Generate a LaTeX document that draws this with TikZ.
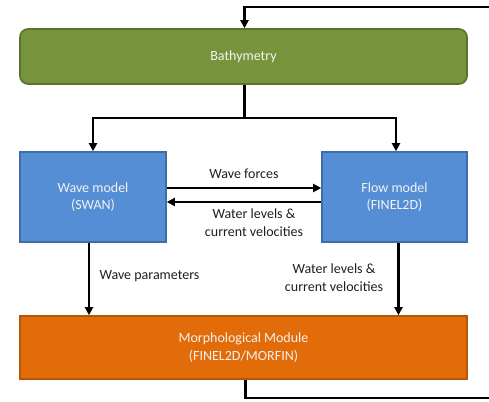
\documentclass[tikz,border=0pt]{standalone}
\usepackage{fontspec}
\setmainfont{Carlito}
\usetikzlibrary{arrows.meta}
\definecolor{bathfill}{HTML}{77933C}
\definecolor{bathline}{HTML}{5A7229}
\definecolor{bluefill}{HTML}{558ED5}
\definecolor{blueline}{HTML}{3E6DAA}
\definecolor{orgfill}{HTML}{E36C0A}
\definecolor{orgline}{HTML}{B5560A}
\definecolor{boxtext}{HTML}{F2F2F2}
\definecolor{labtext}{HTML}{1E1E1E}
\tikzset{
  boxbase/.style={draw, line width=1.6pt, inner sep=0pt, align=center,
    text=boxtext, font=\fontsize{14}{17.5}\selectfont},
  bathbox/.style={boxbase, fill=bathfill, draw=bathline, rounded corners=8pt},
  bluebox/.style={boxbase, fill=bluefill, draw=blueline},
  orgbox/.style={boxbase, fill=orgfill, draw=orgline},
  conn/.style={line width=2.6pt, draw=black},
  arr/.style={conn, -{Triangle[length=8pt,width=8pt]}},
  lab/.style={align=center, text=labtext, inner sep=0pt,
    font=\fontsize{14}{18}\selectfont},
}
\begin{document}
\begin{tikzpicture}[x=1pt,y=-1pt]
\useasboundingbox (0,0) rectangle (489,401);
\node[bathbox, minimum width=447pt, minimum height=55pt] (bath) at (243.5,56.5) {Bathymetry};
\node[bluebox, minimum width=146pt, minimum height=90pt] (wave) at (93,197) {Wave model\\(SWAN)};
\node[bluebox, minimum width=145pt, minimum height=90pt] (flow) at (394.5,197) {Flow model\\(FINEL2D)};
\node[orgbox, minimum width=447pt, minimum height=63pt] (morph) at (243.5,347.5) {Morphological Module\\(FINEL2D/MORFIN)};

% split from bathymetry
\coordinate (bx) at (244.5,118);
\coordinate (wtop) at (93,118);
\coordinate (ftop) at (396,118);
\draw[conn] (bath.south -| bx) -- (bx);
\draw[arr] (bx) -- (wtop) -- (wtop |- wave.north);
\draw[arr] (bx) -- (ftop) -- (ftop |- flow.north);

% horizontal exchanges
\coordinate (fy) at (0,188);
\coordinate (ry) at (0,202);
\draw[arr] (wave.east |- fy) -- (flow.west |- fy);
\draw[arr] (flow.west |- ry) -- (wave.east |- ry);
\node[lab] (lwf) at (244,174) {Wave forces};
\node[lab] (lwl) at (254,223) {Water levels \&\\current velocities};

% down to morphology
\coordinate (wpx) at (89,0);
\coordinate (fpx) at (398.5,0);
\draw[arr] (wave.south -| wpx) -- (morph.north -| wpx);
\draw[arr] (flow.south -| fpx) -- (morph.north -| fpx);
\node[lab] (lwp) at (149.5,276) {Wave parameters};
\node[lab] (lwl2) at (334,278) {Water levels \&\\current velocities};

% feedback loop
\coordinate (mb) at (245.5,398);
\coordinate (rb) at (500,398);
\coordinate (rt) at (500,7);
\coordinate (tt) at (244.5,7);
\draw[arr] (morph.south -| mb) -- (mb) -- (rb) -- (rt) -- (tt) -- (tt |- bath.north);
\end{tikzpicture}
\end{document}
